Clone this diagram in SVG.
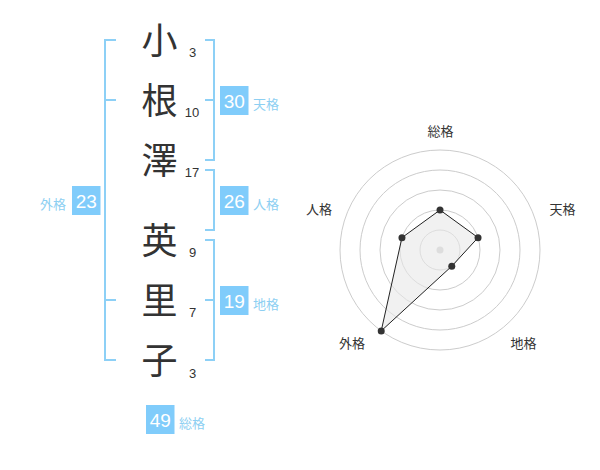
<svg xmlns="http://www.w3.org/2000/svg" width="600" height="470" viewBox="0 0 600 470">
<style>
.ch{font-family:"Noto Sans CJK JP","Noto Sans",sans-serif;font-size:36px;fill:#333;text-anchor:middle}
.num{font-family:"Liberation Sans",Arial,sans-serif;font-size:13px;fill:#333;text-anchor:middle}
.br{fill:none;stroke:#8dd0f6;stroke-width:2}
.box{fill:#80ccfb}
.bt{font-family:"Liberation Sans",Arial,sans-serif;font-size:19px;fill:#fff;text-anchor:middle}
.bl{font-family:"Noto Sans CJK JP",sans-serif;font-size:13px;fill:#8dcff2}
.ring{fill:none;stroke:#ccc;stroke-width:1}
.rl{font-family:"Noto Sans CJK JP",sans-serif;font-size:13px;fill:#333;text-anchor:middle}
.dot{fill:#333}
</style>
<rect width="600" height="470" fill="#fff"/>
<g id="name">
<text class="ch" x="159.5" y="54">小</text>
<text class="ch" x="159.5" y="114">根</text>
<text class="ch" x="159.5" y="174">澤</text>
<text class="ch" x="159.5" y="254">英</text>
<text class="ch" x="159.5" y="314">里</text>
<text class="ch" x="159.5" y="374">子</text>
<text class="num" x="192.5" y="57">3</text>
<text class="num" x="192" y="117">10</text>
<text class="num" x="192" y="177">17</text>
<text class="num" x="192.5" y="257">9</text>
<text class="num" x="192.5" y="317">7</text>
<text class="num" x="192.5" y="378">3</text>
</g>
<g id="connectors">
<path class="br" d="M116,40 H105 V360 H116 M105,100 H116 M105,300 H116"/>
<path class="br" d="M205,40 H214 V160 H205 M205,100 H214"/>
<path class="br" d="M205,170 H214 V230 H205"/>
<path class="br" d="M205,240 H214 V360 H205 M205,300 H214"/>
</g>
<g id="tenkaku">
<rect class="box" x="220" y="86" width="28.5" height="29"/>
<text class="bt" x="234.2" y="107.5">30</text>
<text class="bl" x="253" y="109">天格</text>
</g>
<g id="jinkaku">
<rect class="box" x="220" y="186" width="28.5" height="29"/>
<text class="bt" x="234.2" y="207.5">26</text>
<text class="bl" x="253" y="209">人格</text>
</g>
<g id="chikaku">
<rect class="box" x="220" y="286" width="28.5" height="29"/>
<text class="bt" x="234.2" y="307.5">19</text>
<text class="bl" x="253" y="309">地格</text>
</g>
<g id="gaikaku">
<rect class="box" x="72" y="186" width="28.5" height="29"/>
<text class="bt" x="86.2" y="207.5">23</text>
<text class="bl" x="66" y="209" text-anchor="end">外格</text>
</g>
<g id="soukaku">
<rect class="box" x="146" y="405" width="28.5" height="29"/>
<text class="bt" x="160.2" y="426.5">49</text>
<text class="bl" x="179" y="428">総格</text>
</g>
<g id="radar">
<circle class="ring" cx="440" cy="250" r="20"/>
<circle class="ring" cx="440" cy="250" r="40"/>
<circle class="ring" cx="440" cy="250" r="60"/>
<circle class="ring" cx="440" cy="250" r="80"/>
<circle class="ring" cx="440" cy="250" r="100"/>
<circle cx="440" cy="250" r="3.5" fill="#ccc"/>
<polygon points="440,210 478.04,237.64 451.76,266.18 381.22,330.9 401.96,237.64" fill="#e8e8e8" fill-opacity="0.6" stroke="#222" stroke-width="1"/>
<circle class="dot" cx="440" cy="210" r="3.5"/>
<circle class="dot" cx="478.04" cy="237.64" r="3.5"/>
<circle class="dot" cx="451.76" cy="266.18" r="3.5"/>
<circle class="dot" cx="381.22" cy="330.9" r="3.5"/>
<circle class="dot" cx="401.96" cy="237.64" r="3.5"/>
<text class="rl" x="440.5" y="135.5">総格</text>
<text class="rl" x="562.5" y="213.5">天格</text>
<text class="rl" x="319" y="213.5">人格</text>
<text class="rl" x="523.5" y="347.5">地格</text>
<text class="rl" x="352" y="347.5">外格</text>
</g>
</svg>
